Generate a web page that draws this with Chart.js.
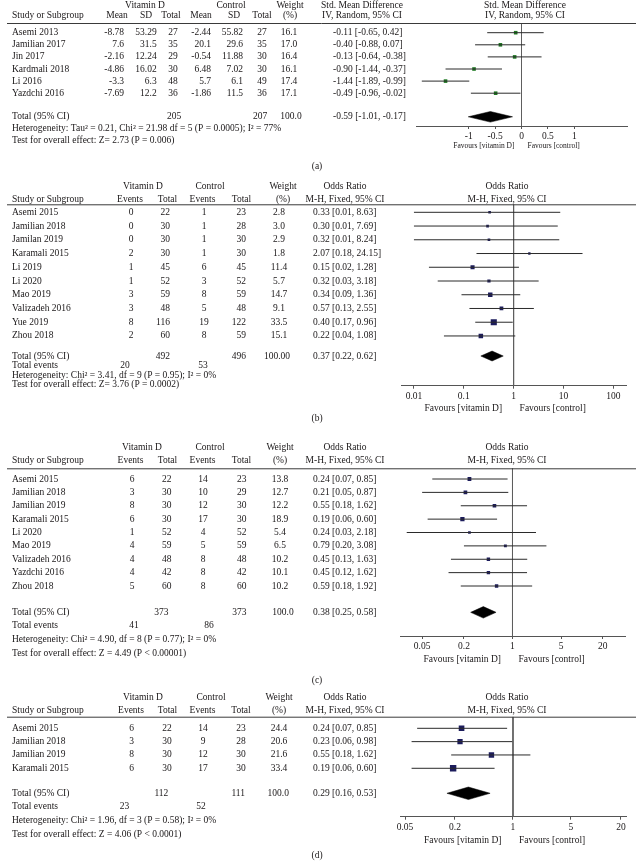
<!DOCTYPE html>
<html>
<head>
<meta charset="utf-8">
<title>Vitamin D forest plots</title>
<script src="https://cdn.jsdelivr.net/npm/chart.js"></script>
<style>
  body { margin: 0; background: #fff; }
  #wrap { position: relative; width: 636px; height: 866px; overflow: hidden; }
  canvas { position: absolute; left: 0; }
</style>
</head>
<body>
<div id="wrap">
  <canvas id="panelA" width="636" height="175" style="top:0px"></canvas>
  <canvas id="panelB" width="636" height="265" style="top:175px"></canvas>
  <canvas id="panelC" width="636" height="250" style="top:440px"></canvas>
  <canvas id="panelD" width="636" height="176" style="top:690px"></canvas>
</div>
<script>
// (a) Std. mean difference
const aStudies = ["Asemi 2013", "Jamilian 2017", "Jin 2017", "Kardmali 2018", "Li 2016", "Yazdchi 2016"];
const aVitMean = [-8.78, 7.6, -2.16, -4.86, -3.3, -7.69];
const aVitSD = [53.29, 31.5, 12.24, 16.02, 6.3, 12.2];
const aVitN = [27, 35, 29, 30, 48, 36];
const aCtlMean = [-2.44, 20.1, -0.54, 6.48, 5.7, -1.86];
const aCtlSD = [55.82, 29.6, 11.88, 7.02, 6.1, 11.5];
const aCtlN = [27, 35, 30, 30, 49, 36];
const aWeight = [16.1, 17.0, 16.4, 16.1, 17.4, 17.1];
const aEst = [-0.11, -0.40, -0.13, -0.90, -1.44, -0.49];
const aLo = [-0.65, -0.88, -0.64, -1.44, -1.89, -0.96];
const aHi = [0.42, 0.07, 0.38, -0.37, -0.99, -0.02];
// printed as in the source (Jin 2017 upper limit is printed with a minus sign)
const aCiText = ["-0.11 [-0.65, 0.42]", "-0.40 [-0.88, 0.07]", "-0.13 [-0.64, -0.38]",
                 "-0.90 [-1.44, -0.37]", "-1.44 [-1.89, -0.99]", "-0.49 [-0.96, -0.02]"];
const aTotal = [-0.59, -1.01, -0.17];
const aTicks = [-1, -0.5, 0, 0.5, 1];

// (b)
const bStudies = ["Asemi 2015", "Jamilian 2018", "Jamilan 2019", "Karamali 2015", "Li 2019",
                  "Li 2020", "Mao 2019", "Valizadeh 2016", "Yue 2019", "Zhou 2018"];
const bVitEv = [0, 0, 0, 2, 1, 1, 3, 3, 8, 2];
const bVitN = [22, 30, 30, 30, 45, 52, 59, 48, 116, 60];
const bCtlEv = [1, 1, 1, 1, 6, 3, 8, 5, 19, 8];
const bCtlN = [23, 28, 30, 30, 45, 52, 59, 48, 122, 59];
const bWeight = [2.8, 3.0, 2.9, 1.8, 11.4, 5.7, 14.7, 9.1, 33.5, 15.1];
const bOR = [0.33, 0.30, 0.32, 2.07, 0.15, 0.32, 0.34, 0.57, 0.40, 0.22];
const bLo = [0.01, 0.01, 0.01, 0.18, 0.02, 0.03, 0.09, 0.13, 0.17, 0.04];
const bHi = [8.63, 7.69, 8.24, 24.15, 1.28, 3.18, 1.36, 2.55, 0.96, 1.08];
const bTotal = [0.37, 0.22, 0.62];
const bTicks = [0.01, 0.1, 1, 10, 100];

// (c)
const cStudies = ["Asemi 2015", "Jamilian 2018", "Jamilian 2019", "Karamali 2015", "Li 2020",
                  "Mao 2019", "Valizadeh 2016", "Yazdchi 2016", "Zhou 2018"];
const cVitEv = [6, 3, 8, 6, 1, 4, 4, 4, 5];
const cVitN = [22, 30, 30, 30, 52, 59, 48, 42, 60];
const cCtlEv = [14, 10, 12, 17, 4, 5, 8, 8, 8];
const cCtlN = [23, 29, 30, 30, 52, 59, 48, 42, 60];
const cWeight = [13.8, 12.7, 12.2, 18.9, 5.4, 6.5, 10.2, 10.1, 10.2];
const cOR = [0.24, 0.21, 0.55, 0.19, 0.24, 0.79, 0.45, 0.45, 0.59];
const cLo = [0.07, 0.05, 0.18, 0.06, 0.03, 0.20, 0.13, 0.12, 0.18];
const cHi = [0.85, 0.87, 1.62, 0.60, 2.18, 3.08, 1.63, 1.62, 1.92];
const cTotal = [0.38, 0.25, 0.58];
const cTicks = [0.05, 0.2, 1, 5, 20];

// (d)
const dStudies = ["Asemi 2015", "Jamilian 2018", "Jamilian 2019", "Karamali 2015"];
const dVitEv = [6, 3, 8, 6];
const dVitN = [22, 30, 30, 30];
const dCtlEv = [14, 9, 12, 17];
const dCtlN = [23, 28, 30, 30];
const dWeight = [24.4, 20.6, 21.6, 33.4];
const dOR = [0.24, 0.23, 0.55, 0.19];
const dLo = [0.07, 0.06, 0.18, 0.06];
const dHi = [0.85, 0.98, 1.62, 0.60];
const dTotal = [0.29, 0.16, 0.53];
const dTicks = [0.05, 0.2, 1, 5, 20];

const INK = "#1a1718";
const FONT = '9.5px "Liberation Serif"';

function fmt1(v) { return v.toFixed(1); }
function ciLabel(e, l, h) { return e.toFixed(2) + " [" + l.toFixed(2) + ", " + h.toFixed(2) + "]"; }

// draws the table columns, headers and footers next to the plot
function tablePlugin(p) {
  return {
    id: "table" + p.id,
    afterDraw(chart) {
      const ctx = chart.ctx;
      const ys = chart.scales.y, xs = chart.scales.x;
      const rowY = r => ys.getPixelForValue(r);
      const pg = v => v - p.top;
      const put = (s, x, y, align, font) => {
        ctx.textAlign = align || "left";
        ctx.font = font || FONT;
        ctx.fillText(String(s), x, y);
      };
      ctx.save();
      ctx.fillStyle = INK;
      ctx.textBaseline = "middle";

      // rule under the header
      ctx.strokeStyle = "#3a3a3a";
      ctx.lineWidth = 1;
      ctx.beginPath();
      ctx.moveTo(7, chart.chartArea.top + 0.5);
      ctx.lineTo(636, chart.chartArea.top + 0.5);
      ctx.stroke();

      p.groups.forEach(g => put(g[0], g[1], pg(p.head1Y), "center"));
      put("Study or Subgroup", 12, pg(p.head2Y));
      p.studies.forEach((s, i) => put(s, 12, rowY(i)));
      p.cols.forEach(c => {
        if (c.h1) put(c.h1, c.hx, pg(p.head1Y), "center");
        put(c.h2, c.hx, pg(p.head2Y), "center");
        c.vals.forEach((v, i) => put(c.fmt ? c.fmt(v) : v, c.x, rowY(i), c.align));
      });

      // effect column
      put(p.effHead[0], p.ciHx, pg(p.head1Y), "center");
      put(p.effHead[1], p.ciHx, pg(p.head2Y), "center");
      put(p.effHead[0], p.plotHx, pg(p.head1Y), "center");
      put(p.effHead[1], p.plotHx, pg(p.head2Y), "center");
      const labels = p.ciText || p.est.map((e, i) => ciLabel(e, p.lo[i], p.hi[i]));
      labels.forEach((s, i) => put(s, p.ciX, rowY(i)));

      // totals
      const ty = rowY(p.totalRow);
      put("Total (95% CI)", 12, ty);
      p.totalCells.forEach(c => put(c[0], c[1], ty, c[2]));
      put(ciLabel(p.total[0], p.total[1], p.total[2]), p.ciX, ty);
      if (p.eventCells) {
        put("Total events", 12, pg(p.eventsY));
        p.eventCells.forEach(c => put(c[0], c[1], pg(p.eventsY), "center"));
      }
      p.footers.forEach(f => put(f[0], 12, pg(f[1])));

      // favours labels either side of the line of no effect
      const rx = xs.getPixelForValue(p.ref);
      put("Favours [vitamin D]", rx - p.favGap[0], pg(p.favY), "right", p.favFont);
      put("Favours [control]", rx + p.favGap[1], pg(p.favY), "left", p.favFont);

      put(p.tag, 317, pg(p.tagY), "center");
      ctx.restore();
    }
  };
}

function buildPanel(p) {
  const yMin = (p.lineY - p.rowY0) / p.rowDy;
  const yMax = (p.axisY - p.rowY0) / p.rowDy;
  const ds = [];

  // confidence intervals
  p.lo.forEach((lo, i) => {
    ds.push({
      type: "line", showLine: true,
      data: [{ x: lo, y: i }, { x: p.hi[i], y: i }],
      borderColor: "#2a2a2a", borderWidth: 1, pointRadius: 0
    });
  });
  // study estimates
  ds.push({
    type: "scatter",
    data: p.est.map((v, i) => ({ x: v, y: i })),
    pointStyle: "rect",
    pointRadius: p.weight.map(w => (p.sqBase + p.sqK * Math.sqrt(w)) / Math.SQRT2),
    pointBackgroundColor: p.sqColor, pointBorderWidth: 0
  });
  // pooled diamond
  const t = p.total, T = p.totalRow, h = p.dh;
  ds.push({
    type: "line", showLine: true,
    data: [{ x: t[1], y: T }, { x: t[0], y: T - h }, { x: t[2], y: T }, { x: t[0], y: T + h }, { x: t[1], y: T }],
    fill: "shape", backgroundColor: "#000", borderColor: "#000", borderWidth: 0.5, pointRadius: 0
  });
  // line of no effect
  ds.push({
    type: "line", showLine: true,
    data: [{ x: p.ref, y: yMin }, { x: p.ref, y: yMax }],
    borderColor: "#5e5e5e", borderWidth: 1, pointRadius: 0
  });

  new Chart(document.getElementById(p.id), {
    type: "scatter",
    data: { datasets: ds },
    options: {
      responsive: false,
      animation: false,
      events: [],
      layout: { padding: { left: p.plotL, right: 636 - p.plotR, top: p.lineY - p.top, bottom: p.top + p.H - p.axisY - 40 } },
      plugins: { legend: { display: false }, tooltip: { enabled: false } },
      scales: {
        x: {
          type: p.xType, min: p.xMin, max: p.xMax,
          afterBuildTicks: s => { s.ticks = p.ticks.map(v => ({ value: v })); },
          afterFit: s => { s.height = 40; },
          ticks: {
            autoSkip: false, maxRotation: 0, padding: 2, color: INK,
            font: { family: "Liberation Serif", size: 9.5 },
            callback: v => String(v)
          },
          grid: { drawOnChartArea: false, drawTicks: true, tickLength: 3, color: "#555" },
          border: { display: true, color: "#555", width: 1 }
        },
        y: { type: "linear", reverse: true, min: yMin, max: yMax, display: false }
      }
    },
    plugins: [tablePlugin(p)]
  });
}

const mhHead = ["Odds Ratio", "M-H, Fixed, 95% CI"];

buildPanel({
  id: "panelA", top: 0, H: 175,
  rowY0: 32.7, rowDy: 12.1, lineY: 23, axisY: 126, plotL: 416, plotR: 627,
  xType: "linear", xMin: -2, xMax: 2, ticks: aTicks, ref: 0,
  studies: aStudies, est: aEst, lo: aLo, hi: aHi, weight: aWeight, ciText: aCiText, total: aTotal,
  totalRow: 6.95, dh: 0.44, sqBase: 3.6, sqK: 0, sqColor: "#1e7a22",
  head1Y: 5, head2Y: 15.7,
  groups: [["Vitamin D", 145], ["Control", 231]],
  cols: [
    { h2: "Mean", hx: 117, x: 124, align: "right", vals: aVitMean },
    { h2: "SD", hx: 146, x: 156.7, align: "right", vals: aVitSD },
    { h2: "Total", hx: 171, x: 173, align: "center", vals: aVitN },
    { h2: "Mean", hx: 201, x: 211, align: "right", vals: aCtlMean },
    { h2: "SD", hx: 234, x: 243, align: "right", vals: aCtlSD },
    { h2: "Total", hx: 262, x: 262, align: "center", vals: aCtlN },
    { h1: "Weight", h2: "(%)", hx: 290, x: 289, align: "center", vals: aWeight, fmt: fmt1 }
  ],
  effHead: ["Std. Mean Difference", "IV, Random, 95% CI"], ciHx: 362, plotHx: 525, ciX: 333,
  totalCells: [["205", 174, "center"], ["207", 260, "center"], ["100.0", 291, "center"]],
  footers: [["Heterogeneity: Tau\u00b2 = 0.21, Chi\u00b2 = 21.98 df = 5 (P = 0.0005); I\u00b2 = 77%", 128.7],
            ["Test for overall effect: Z= 2.73 (P = 0.006)", 140.7]],
  favY: 146, favFont: '7.5px "Liberation Serif"', favGap: [7, 6],
  tag: "(a)", tagY: 166.7
});

buildPanel({
  id: "panelB", top: 175, H: 265,
  rowY0: 212.3, rowDy: 13.74, lineY: 204.3, axisY: 385.7, plotL: 401, plotR: 626,
  xType: "logarithmic", xMin: 0.0055, xMax: 180, ticks: bTicks, ref: 1,
  studies: bStudies, est: bOR, lo: bLo, hi: bHi, weight: bWeight, total: bTotal,
  totalRow: 10.46, dh: 0.36, sqBase: 1.2, sqK: 0.85, sqColor: "#1c1c5c",
  head1Y: 186.7, head2Y: 199,
  groups: [["Vitamin D", 143], ["Control", 210]],
  cols: [
    { h2: "Events", hx: 130, x: 131, align: "center", vals: bVitEv },
    { h2: "Total", hx: 167.5, x: 170, align: "right", vals: bVitN },
    { h2: "Events", hx: 202.5, x: 204, align: "center", vals: bCtlEv },
    { h2: "Total", hx: 241.5, x: 246, align: "right", vals: bCtlN },
    { h1: "Weight", h2: "(%)", hx: 283, x: 279, align: "center", vals: bWeight, fmt: fmt1 }
  ],
  effHead: mhHead, ciHx: 345, plotHx: 507, ciX: 313,
  totalCells: [["492", 170, "right"], ["496", 246, "right"], ["100.00", 277, "center"]],
  eventsY: 365.3, eventCells: [["20", 125], ["53", 203]],
  footers: [["Heterogeneity: Chi\u00b2 = 3.41, df = 9 (P = 0.95); I\u00b2 = 0%", 375],
            ["Test for overall effect: Z= 3.76 (P = 0.0002)", 384.3]],
  favY: 408.3, favFont: FONT, favGap: [11.5, 6],
  tag: "(b)", tagY: 418.3
});

buildPanel({
  id: "panelC", top: 440, H: 250,
  rowY0: 479, rowDy: 13.375, lineY: 468.3, axisY: 636, plotL: 400, plotR: 625,
  xType: "logarithmic", xMin: 0.024, xMax: 41.7, ticks: cTicks, ref: 1,
  studies: cStudies, est: cOR, lo: cLo, hi: cHi, weight: cWeight, total: cTotal,
  totalRow: 9.97, dh: 0.43, sqBase: 1.0, sqK: 0.75, sqColor: "#1c1c5c",
  head1Y: 447.3, head2Y: 460,
  groups: [["Vitamin D", 142], ["Control", 210]],
  cols: [
    { h2: "Events", hx: 130.5, x: 132, align: "center", vals: cVitEv },
    { h2: "Total", hx: 167.5, x: 171.5, align: "right", vals: cVitN },
    { h2: "Events", hx: 202.5, x: 203, align: "center", vals: cCtlEv },
    { h2: "Total", hx: 241.5, x: 246.5, align: "right", vals: cCtlN },
    { h1: "Weight", h2: "(%)", hx: 280, x: 280, align: "center", vals: cWeight, fmt: fmt1 }
  ],
  effHead: mhHead, ciHx: 345, plotHx: 507, ciX: 313,
  totalCells: [["373", 168.5, "right"], ["373", 246.5, "right"], ["100.0", 283, "center"]],
  eventsY: 625.7, eventCells: [["41", 134], ["86", 209]],
  footers: [["Heterogeneity: Chi\u00b2 = 4.90, df = 8 (P = 0.77); I\u00b2 = 0%", 639],
            ["Test for overall effect: Z = 4.49 (P < 0.00001)", 653.3]],
  favY: 659, favFont: FONT, favGap: [11.5, 6],
  tag: "(c)", tagY: 680
});

buildPanel({
  id: "panelD", top: 690, H: 176,
  rowY0: 728.3, rowDy: 13.33, lineY: 716.7, axisY: 816.7, plotL: 400, plotR: 626,
  xType: "logarithmic", xMin: 0.0435, xMax: 23, ticks: dTicks, ref: 1,
  studies: dStudies, est: dOR, lo: dLo, hi: dHi, weight: dWeight, total: dTotal,
  totalRow: 4.875, dh: 0.47, sqBase: 1.2, sqK: 0.9, sqColor: "#1c1c5c",
  head1Y: 697.3, head2Y: 710,
  groups: [["Vitamin D", 143], ["Control", 211]],
  cols: [
    { h2: "Events", hx: 131, x: 131.7, align: "center", vals: dVitEv },
    { h2: "Total", hx: 167.5, x: 171.7, align: "right", vals: dVitN },
    { h2: "Events", hx: 202.5, x: 203, align: "center", vals: dCtlEv },
    { h2: "Total", hx: 241, x: 245.7, align: "right", vals: dCtlN },
    { h1: "Weight", h2: "(%)", hx: 279, x: 279, align: "center", vals: dWeight, fmt: fmt1 }
  ],
  effHead: mhHead, ciHx: 345, plotHx: 507, ciX: 313,
  totalCells: [["112", 168.3, "right"], ["111", 245, "right"], ["100.0", 278.3, "center"]],
  eventsY: 806.7, eventCells: [["23", 124.5], ["52", 201]],
  footers: [["Heterogeneity: Chi\u00b2 = 1.96, df = 3 (P = 0.58); I\u00b2 = 0%", 820],
            ["Test for overall effect: Z = 4.06 (P < 0.0001)", 834]],
  favY: 840.7, favFont: FONT, favGap: [11.5, 6],
  tag: "(d)", tagY: 855
});
</script>
</body>
</html>
